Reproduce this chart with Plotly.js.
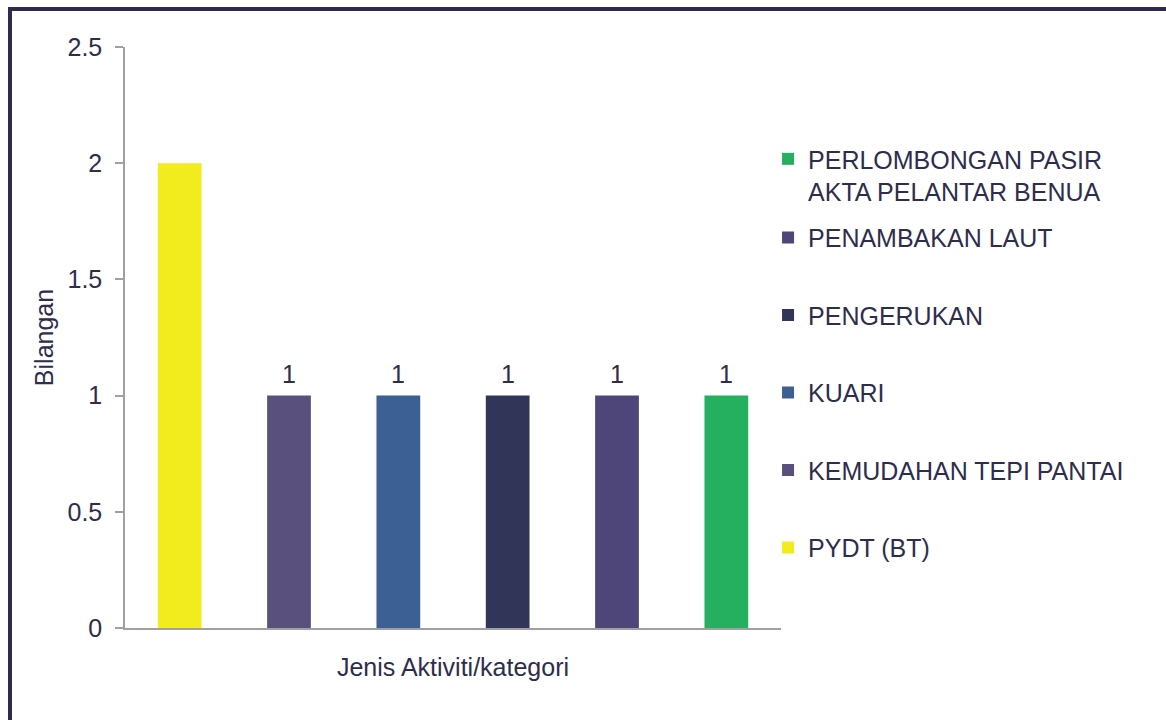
<!DOCTYPE html>
<html>
<head>
<meta charset="utf-8">
<script src="https://cdn.plot.ly/plotly-3.0.1.min.js"></script>
<style>
  html, body { margin: 0; padding: 0; background: #ffffff; overflow: hidden; }
  #chart { position: absolute; left: 0; top: 0; width: 1166px; height: 720px; }
  #frame { position: absolute; left: 8px; top: 7px; width: 1200px; height: 760px;
           border-left: 4px solid #2f2b4f; border-top: 4px solid #2f2b4f; pointer-events: none; }
</style>
</head>
<body>
<div id="chart"></div>
<div id="frame"></div>
<script>
// Categories in bar order (left to right)
const categories = ["PYDT (BT)", "KEMUDAHAN TEPI PANTAI", "KUARI", "PENGERUKAN", "PENAMBAKAN LAUT", "PERLOMBONGAN PASIR AKTA PELANTAR BENUA"];
const legendNames = ["PYDT (BT)", "KEMUDAHAN TEPI PANTAI", "KUARI", "PENGERUKAN", "PENAMBAKAN LAUT", "PERLOMBONGAN PASIR<br>AKTA PELANTAR BENUA"];
const values = [2, 1, 1, 1, 1, 1];
const labels = ["", "1", "1", "1", "1", "1"];
const colors = ["#f2eb1e", "#5a507d", "#3c5f94", "#313557", "#4e4679", "#24b05f"];
const yTickVals = [0, 0.5, 1, 1.5, 2, 2.5];
const yTickText = ["0", "0.5", "1", "1.5", "2", "2.5"];

const textColor = "#2e2d4c";
const fontFam = "Liberation Sans, Arial, Helvetica, sans-serif";

const traces = categories.map((c, i) => ({
  type: "bar",
  x: [c],
  y: [values[i]],
  name: legendNames[i],
  legendgroup: "g" + i,
  legendrank: 100 - i,
  legend: i === categories.length - 1 ? "legend2" : "legend",
  marker: { color: colors[i], line: { width: 0 } },
  hoverinfo: "x+y"
}));

const annotations = categories.map((c, i) => ({
  x: c, y: values[i], text: labels[i],
  xref: "x", yref: "y",
  showarrow: false, yanchor: "bottom", yshift: 6,
  font: { family: fontFam, size: 25, color: textColor }
})).filter(a => a.text !== "");

const layout = {
  width: 1166, height: 720,
  margin: { l: 125, r: 385, t: 47, b: 92, pad: 0, autoexpand: false },
  paper_bgcolor: "#ffffff",
  plot_bgcolor: "#ffffff",
  barmode: "overlay",
  bargap: 0.6,
  font: { family: fontFam, size: 25, color: textColor },
  showlegend: true,
  legend: {
    traceorder: "grouped",
    tracegroupgap: 42,
    xref: "container", yref: "container",
    x: 0.6587, xanchor: "left",
    y: 0.7016, yanchor: "top",
    bgcolor: "rgba(0,0,0,0)", borderwidth: 0,
    font: { family: fontFam, size: 25, color: textColor },
    itemclick: false, itemdoubleclick: false
  },
  legend2: {
    xref: "container", yref: "container",
    x: 0.6587, xanchor: "left",
    y: 0.811, yanchor: "top",
    valign: "top",
    bgcolor: "rgba(0,0,0,0)", borderwidth: 0,
    font: { family: fontFam, size: 25, color: textColor },
    itemclick: false, itemdoubleclick: false
  },
  xaxis: {
    type: "category",
    categoryorder: "array", categoryarray: categories,
    range: [-0.5, categories.length - 0.5],
    showticklabels: false, ticks: "",
    showgrid: false, zeroline: false,
    showline: true, linecolor: "#a0a0a0", linewidth: 1.5,
    title: { text: "Jenis Aktiviti/kategori", standoff: 30,
             font: { family: fontFam, size: 25, color: textColor } },
    fixedrange: true
  },
  yaxis: {
    range: [0, 2.5],
    tickvals: yTickVals, ticktext: yTickText,
    ticks: "outside", ticklen: 8, tickcolor: "#a0a0a0", tickwidth: 1.5,
    ticklabelstandoff: 8,
    showgrid: false, zeroline: false,
    showline: true, linecolor: "#a0a0a0", linewidth: 1.5,
    tickfont: { family: fontFam, size: 25, color: textColor },
    title: { text: "Bilangan", standoff: 7,
             font: { family: fontFam, size: 25, color: textColor } },
    fixedrange: true
  },
  annotations: annotations
};

Plotly.newPlot("chart", traces, layout, { displayModeBar: false, staticPlot: false });
</script>
</body>
</html>
